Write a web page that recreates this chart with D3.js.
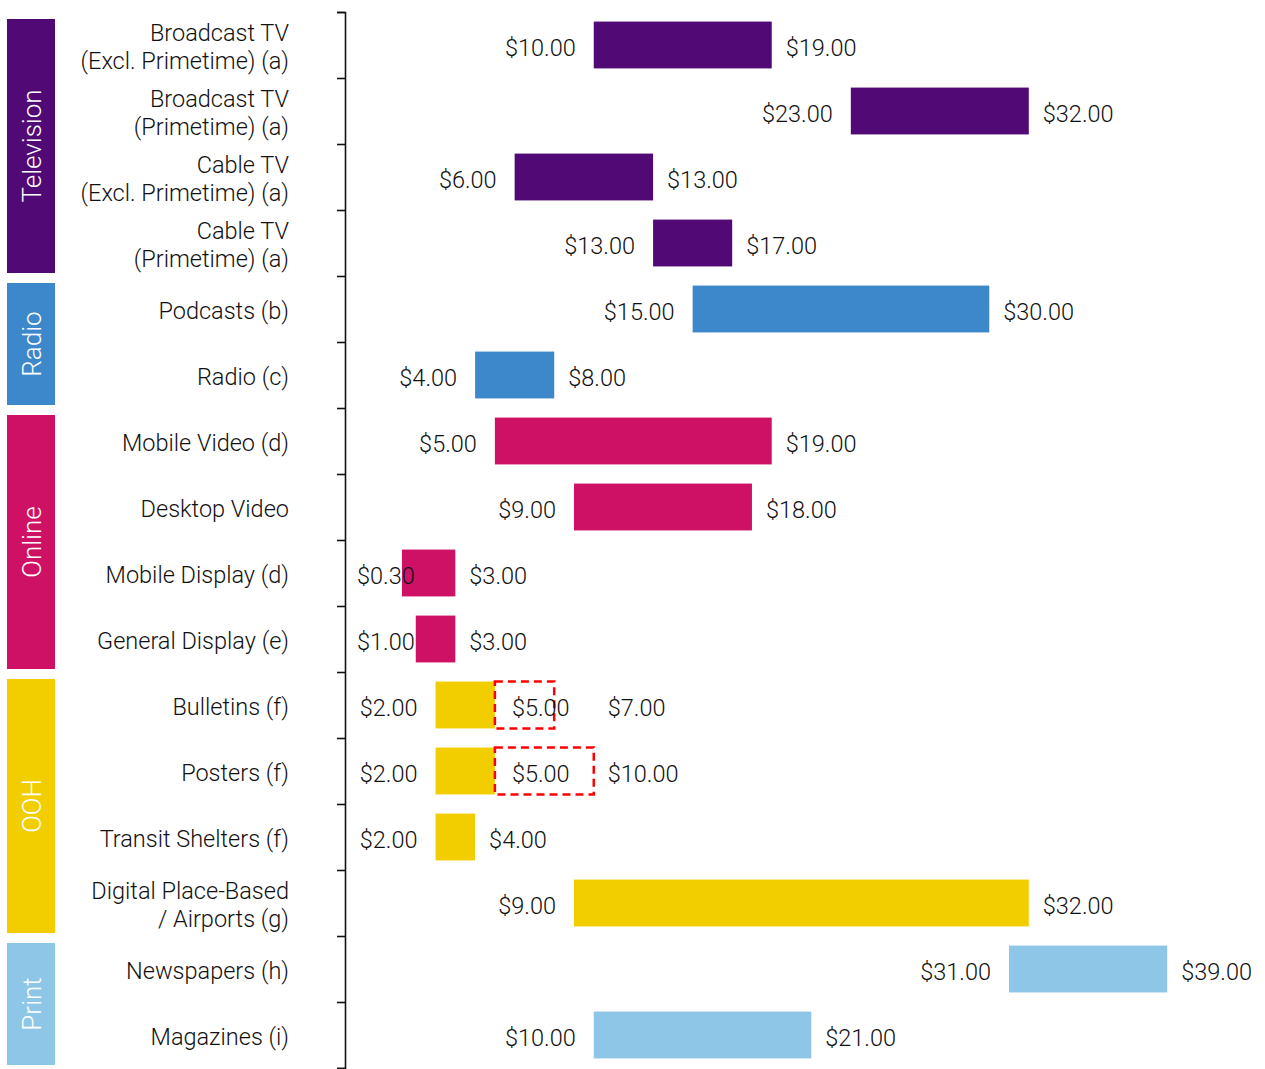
<!DOCTYPE html>
<html>
<head>
<meta charset="utf-8">
<script src="https://cdn.jsdelivr.net/npm/d3@7"></script>
<style>
  body { margin: 0; background: #fff; }
  text { font-family: Roboto, "Noto Sans", sans-serif; font-weight: 300; fill: #111; }
</style>
</head>
<body>
<div id="chart_cpm"></div>
<script>
const categories = [
  "Broadcast TV\n(Excl. Primetime) (a)", "Broadcast TV\n(Primetime) (a)",
  "Cable TV\n(Excl. Primetime) (a)", "Cable TV\n(Primetime) (a)",
  "Podcasts (b)", "Radio (c)",
  "Mobile Video (d)", "Desktop Video", "Mobile Display (d)", "General Display (e)",
  "Bulletins (f)", "Posters (f)", "Transit Shelters (f)", "Digital Place-Based\n/ Airports (g)",
  "Newspapers (h)", "Magazines (i)"
];
const lows  = [10, 23, 6, 13, 15, 4, 5, 9, 0.3, 1, 2, 2, 2, 9, 31, 10];
const highs = [19, 32, 13, 17, 30, 8, 19, 18, 3, 3, 5, 5, 4, 32, 39, 21];
const groupOf = ["Television","Television","Television","Television","Radio","Radio",
  "Online","Online","Online","Online","OOH","OOH","OOH","OOH","Print","Print"];
const groups = ["Television", "Radio", "Online", "OOH", "Print"];
const groupColors = ["#510a75", "#3d87cb", "#cf1166", "#f2ce00", "#8ec6e8"];

// dashed extension boxes for the OOH rows (start, end, outer label)
const dashRows  = ["Bulletins (f)", "Posters (f)"];
const dashStart = [5, 5];
const dashEnd   = [8, 10];
const dashOuter = ["$7.00", "$10.00"];
const dashOuterAt = 10;

const width = 1265, height = 1069;
const fmt = d3.format("$.2f");

const svg = d3.select("#chart_cpm")
  .append("svg")
  .attr("width", width)
  .attr("height", height);

const x = d3.scaleLinear().domain([0, 40]).range([396, 1187]);
const y = d3.scaleBand().domain(categories).range([12, 1068])
  .paddingInner(0.29).paddingOuter(0.145);
const yIdx = d3.scaleLinear().domain([0, categories.length]).range([12, 1068]);
const color = d3.scaleOrdinal(groups, groupColors);

// axis with ticks at the row boundaries
svg.append("g")
  .attr("transform", "translate(345,0)")
  .call(d3.axisLeft(yIdx).ticks(categories.length).tickFormat("").tickSize(8).tickSizeOuter(8))
  .call(g => g.selectAll("path, line").attr("stroke", "#111").attr("stroke-width", 1.6));

// group blocks on the left
groups.forEach((gname, gi) => {
  const first = groupOf.indexOf(gname), last = groupOf.lastIndexOf(gname) + 1;
  const y0 = yIdx(first) + 7, y1 = yIdx(last) - 3;
  svg.append("rect")
    .attr("x", 7).attr("width", 48)
    .attr("y", y0).attr("height", y1 - y0)
    .attr("fill", color(gname));
  svg.append("text")
    .attr("transform", `translate(32,${(y0 + y1) / 2}) rotate(-90)`)
    .attr("text-anchor", "middle")
    .attr("dominant-baseline", "central")
    .style("fill", "#fff")
    .style("font-size", "26px")
    .text(gname);
});

// category labels
categories.forEach(c => {
  const lines = c.split("\n");
  const cy = y(c) + y.bandwidth() / 2 + 2;
  const t = svg.append("text")
    .attr("text-anchor", "end")
    .style("font-size", "23.5px");
  lines.forEach((ln, i) => {
    t.append("tspan")
      .attr("x", 289)
      .attr("y", cy + (i - (lines.length - 1) / 2) * 28)
      .attr("dominant-baseline", "central")
      .text(ln);
  });
});

// range bars
svg.append("g").selectAll("rect")
  .data(categories)
  .join("rect")
  .attr("x", (d, i) => x(lows[i]))
  .attr("width", (d, i) => x(highs[i]) - x(lows[i]))
  .attr("y", d => y(d))
  .attr("height", y.bandwidth())
  .attr("fill", (d, i) => color(groupOf[i]));

// low / high value labels
categories.forEach((c, i) => {
  const cy = y(c) + y.bandwidth() / 2 + 3;
  const t = svg.append("text")
    .attr("x", x(lows[i]) - 18)
    .attr("y", cy)
    .attr("text-anchor", "end")
    .attr("dominant-baseline", "central")
    .style("font-size", "23.5px")
    .text(fmt(lows[i]));
  const w = t.node().getComputedTextLength();
  if (x(lows[i]) - 18 - w < 357) t.attr("text-anchor", "start").attr("x", 357);

  if (dashRows.indexOf(c) < 0) {
    svg.append("text")
      .attr("x", x(highs[i]) + 14)
      .attr("y", cy)
      .attr("dominant-baseline", "central")
      .style("font-size", "23.5px")
      .text(fmt(highs[i]));
  }
});

// dashed extension boxes
dashRows.forEach((c, k) => {
  const cy = y(c) + y.bandwidth() / 2 + 3;
  svg.append("rect")
    .attr("x", x(dashStart[k]))
    .attr("width", x(dashEnd[k]) - x(dashStart[k]))
    .attr("y", y(c))
    .attr("height", y.bandwidth())
    .attr("fill", "none")
    .attr("stroke", "#ff0000")
    .attr("stroke-width", 2.5)
    .attr("stroke-dasharray", "8,5");
  svg.append("text")
    .attr("x", x(dashStart[k]) + 17)
    .attr("y", cy)
    .attr("dominant-baseline", "central")
    .style("font-size", "23.5px")
    .text(fmt(dashStart[k]));
  svg.append("text")
    .attr("x", x(dashOuterAt) + 14)
    .attr("y", cy)
    .attr("dominant-baseline", "central")
    .style("font-size", "23.5px")
    .text(dashOuter[k]);
});
</script>
</body>
</html>
